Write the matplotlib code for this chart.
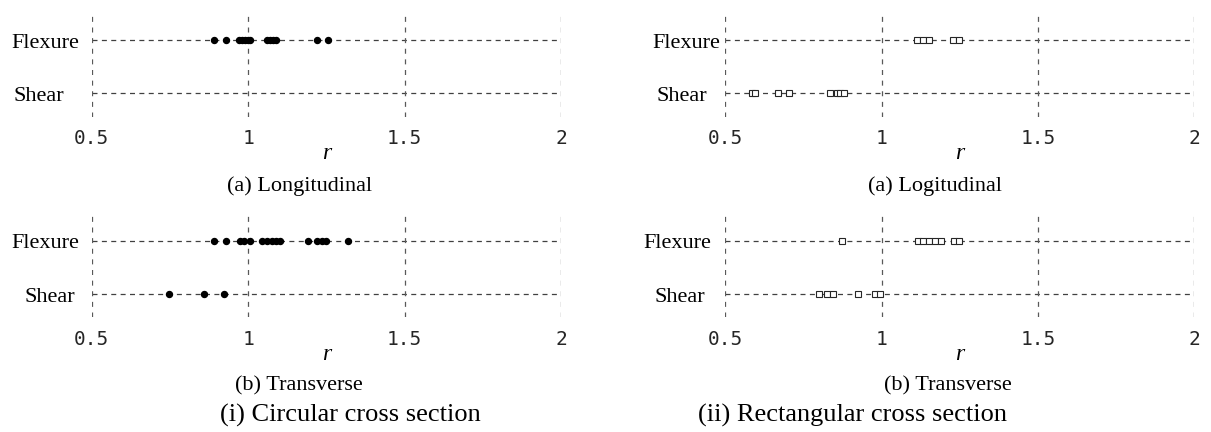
import matplotlib
matplotlib.use('Agg')
import matplotlib.pyplot as plt

# ratio r for each case, read per panel / failure mode
categories = ['Shear', 'Flexure']

circ_long_flexure = [0.89, 0.93, 0.97, 0.98, 0.99, 1.0, 1.005, 1.06, 1.07, 1.08, 1.09, 1.22, 1.255]
circ_long_shear = []
circ_trans_flexure = [0.89, 0.93, 0.975, 0.985, 1.005, 1.045, 1.06, 1.075, 1.09, 1.10,
                      1.19, 1.22, 1.235, 1.25, 1.32]
circ_trans_shear = [0.748, 0.859, 0.923]

rect_long_flexure = [1.115, 1.133, 1.152, 1.23, 1.247]
rect_long_shear = [0.585, 0.595, 0.67, 0.705, 0.835, 0.857, 0.868, 0.88]
rect_trans_flexure = [0.875, 1.116, 1.134, 1.153, 1.172, 1.19, 1.232, 1.247]
rect_trans_shear = [0.80, 0.825, 0.845, 0.925, 0.98, 0.995]

xticks = [0.5, 1, 1.5, 2]
xticklabels = ['0.5', '1', '1.5', '2']

W, H = 1211, 432
fig = plt.figure(figsize=(W / 100, H / 100), dpi=100)

SERIF = ['Liberation Serif', 'DejaVu Serif']
MONO = ['DejaVu Sans Mono']


def px(x, y):
    return x / W, 1 - y / H


def panel(left, top, flexure, shear, marker, subtitle, sub_x, label_off):
    x0, y1 = px(left, top + 104)
    ax = fig.add_axes([x0, y1, 469.5 / W, 104 / H])
    ax.set_xlim(0.5, 2)
    ax.set_ylim(-0.44, 1.51)
    for s in ax.spines.values():
        s.set_visible(False)
    ax.set_xticks(xticks)
    ax.set_xticklabels(xticklabels, family=MONO, fontsize=14, color='0.15')
    ax.set_yticks([])
    ax.tick_params(axis='x', length=0, pad=9)
    for yv in range(len(categories)):
        ax.axhline(yv, color='0.25', lw=0.9, ls=(0, (4, 3.5)), zorder=1)
    for xv in xticks:
        ax.axvline(xv, color='0.35', lw=0.9, ls=(0, (4, 4.5)), zorder=1)
    if marker == 'o':
        style = dict(marker='o', ms=4.3, mfc='black', mec='black')
    else:
        style = dict(marker='s', ms=4.0, mfc='white', mec='0.15', mew=0.8)
    for yv, vals in ((1, flexure), (0, shear)):
        if vals:
            ax.plot(vals, [yv] * len(vals), ls='none', zorder=3, **style)
    for yv, name in enumerate(categories):
        ax.annotate(name, xy=(0, yv), xycoords=ax.get_yaxis_transform(),
                    xytext=(-label_off[yv] * 0.72, -2.5), textcoords='offset points',
                    ha='left', va='center', family=SERIF, fontsize=16)
    fig.text(*px(left + 235, top + 141), 'r', family=SERIF, style='italic',
             fontsize=17, ha='center', va='center')
    fig.text(*px(sub_x, top + 173), subtitle, family=SERIF, fontsize=16,
             ha='center', va='center')
    return ax


panel(91.7, 12.7, circ_long_flexure, circ_long_shear, 'o',
      '(a) Longitudinal', 300, (78, 80))
panel(91.7, 213.3, circ_trans_flexure, circ_trans_shear, 'o',
      '(b) Transverse', 299, (67, 80))
panel(725, 12.7, rect_long_flexure, rect_long_shear, 's',
      '(a) Logitudinal', 935, (68, 73))
panel(725, 213.3, rect_trans_flexure, rect_trans_shear, 's',
      '(b) Transverse', 948, (70, 82))

fig.text(*px(350, 415), '(i) Circular cross section', family=SERIF,
         fontsize=19, ha='center', va='center')
fig.text(*px(852, 415), '(ii) Rectangular cross section', family=SERIF,
         fontsize=19, ha='center', va='center')

fig.savefig('out.png', dpi=100)
